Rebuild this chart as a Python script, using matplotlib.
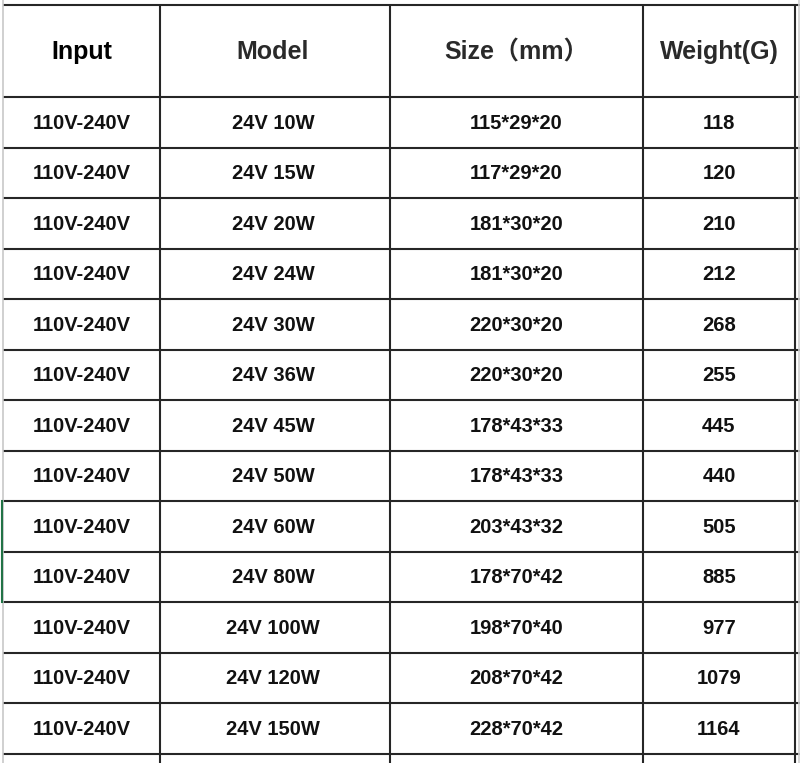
import matplotlib.pyplot as plt

plt.rcParams['font.family'] = ['Liberation Sans', 'Noto Sans CJK SC', 'DejaVu Sans']

headers = ['Input', 'Model', 'Size（mm）', 'Weight(G)']
inputs = ['110V-240V'] * 13
models = ['24V 10W', '24V 15W', '24V 20W', '24V 24W', '24V 30W', '24V 36W', '24V 45W',
          '24V 50W', '24V 60W', '24V 80W', '24V 100W', '24V 120W', '24V 150W']
sizes = ['115*29*20', '117*29*20', '181*30*20', '181*30*20', '220*30*20', '220*30*20',
         '178*43*33', '178*43*33', '203*43*32', '178*70*42', '198*70*40', '208*70*42',
         '228*70*42']
weights = ['118', '120', '210', '212', '268', '255', '445', '440', '505', '885', '977',
           '1079', '1164']

# layout in pixels
col_edges = [3, 160, 390, 643, 795]
top = 5
header_bottom = 97
row_h = 50.5

fig = plt.figure(figsize=(8, 7.63), dpi=100)
ax = fig.add_axes([0, 0, 1, 1])
ax.set_xlim(0, 800)
ax.set_ylim(763, 0)
ax.axis('off')

line_col = '#262626'
n = len(models)
row_lines = [top, header_bottom] + [header_bottom + row_h * (i + 1) for i in range(n)]

for y in row_lines:
    ax.plot([3, 800], [y, y], color=line_col, lw=1.5, solid_capstyle='butt')

for x in col_edges[1:]:
    ax.plot([x, x], [top, 763], color=line_col, lw=1.5, solid_capstyle='butt')

# spreadsheet edges
ax.plot([2.5, 2.5], [0, 763], color='#c8c8c8', lw=1.2)
ax.plot([799, 799], [0, 763], color='#d0d0d0', lw=1.2)
ax.plot([2, 2], [row_lines[9], row_lines[11]], color='#217346', lw=1.5)

centers = [(col_edges[i] + col_edges[i + 1]) / 2 for i in range(4)]
centers[1] -= 2

header_colors = ['#000000', '#2a2a2a', '#2a2a2a', '#2a2a2a']
for i, h in enumerate(headers):
    ax.text(centers[i], (top + header_bottom) / 2 + 1, h, ha='center', va='center',
            fontsize=18, fontweight='bold', color=header_colors[i])

for r in range(n):
    yc = header_bottom + row_h * r + row_h / 2 + 1
    row = [inputs[r], models[r], sizes[r], weights[r]]
    for i, v in enumerate(row):
        ax.text(centers[i], yc, v, ha='center', va='center',
                fontsize=14.5, fontweight='bold', color='#111111')

fig.savefig('out.png', dpi=100)
